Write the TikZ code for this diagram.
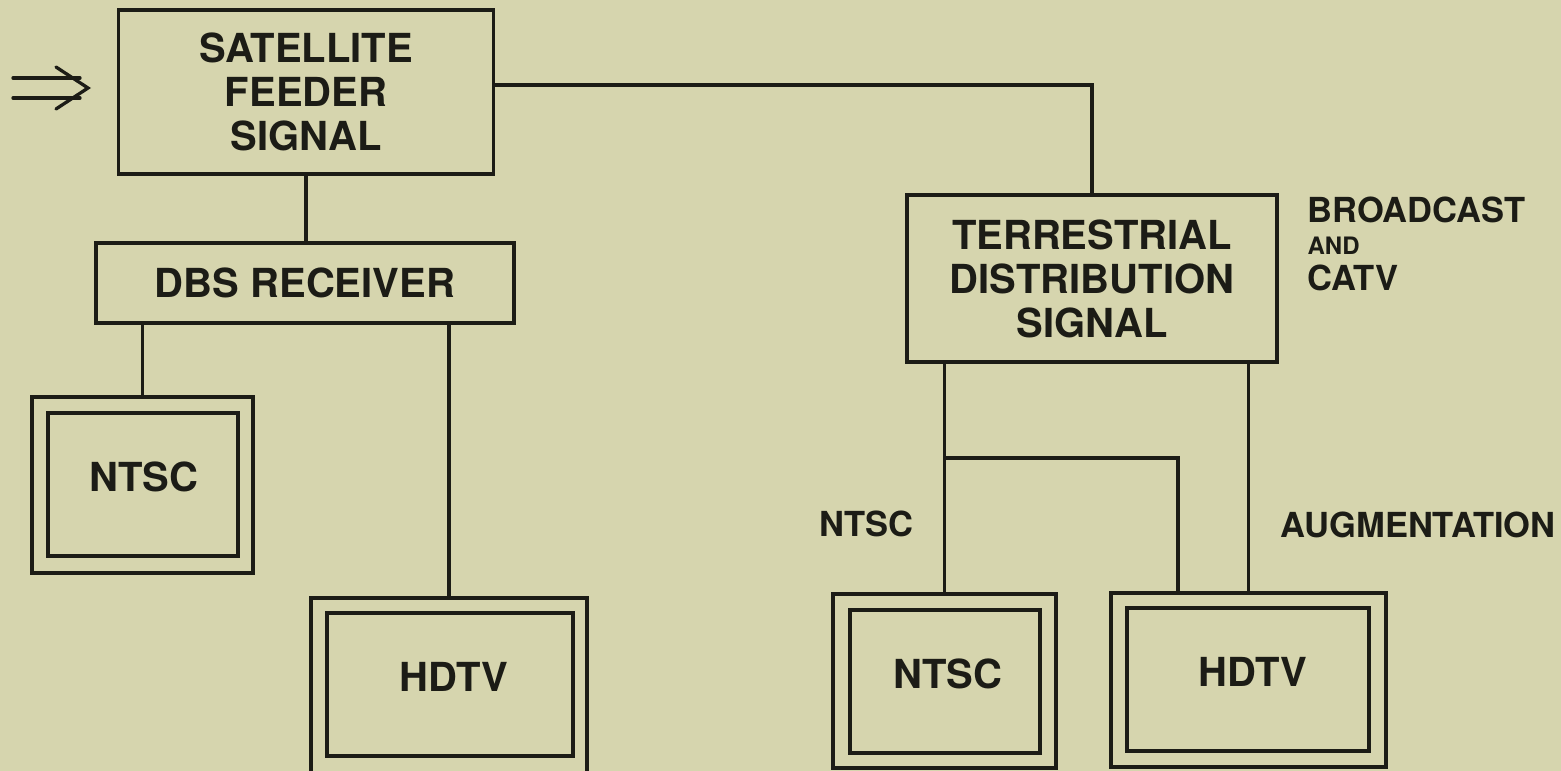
\documentclass[tikz,border=0pt]{standalone}
\usepackage{fontspec}
\setmainfont{TeX Gyre Heros}
\definecolor{paper}{RGB}{214,213,174}
\definecolor{ink}{RGB}{28,28,22}
\newcommand\bigtxt{\fontsize{40}{44}\selectfont\bfseries}
\newcommand\lbltxt{\fontsize{34.5}{38}\selectfont\bfseries}
\newcommand\andtxt{\fontsize{24}{26}\selectfont\bfseries}
\begin{document}
\begin{tikzpicture}[x=1pt,y=-1pt,line width=3.3pt,
  box/.style={draw=ink,rectangle,inner sep=0pt,align=center,font=\bigtxt,text=ink},
  tvframe/.style={draw=ink,rectangle,inner sep=0pt},
  tvtext/.style={inner sep=0pt,font=\bigtxt,text=ink},
  lbl/.style={inner sep=0pt,anchor=base west,font=\lbltxt,text=ink},
  wire/.style={draw=ink,line width=3.3pt}]
\fill[paper] (0,0) rectangle (1561,771);
\useasboundingbox (0,0) rectangle (1561,771);

% main boxes
\node[box,minimum width=375pt,minimum height=164pt] (sat) at (306,92) {SATELLITE\\FEEDER\\SIGNAL};
\node[box,minimum width=418pt,minimum height=80pt] (dbs) at (305,283) {DBS RECEIVER};
\node[box,minimum width=370pt,minimum height=167pt] (terr) at (1092,278.5) {TERRESTRIAL\\DISTRIBUTION\\SIGNAL};

% TV sets
\node[tvframe,minimum width=221pt,minimum height=176pt] (ntscL) at (142.5,485) {};
\node[tvframe,minimum width=190pt,minimum height=143pt] (ntscLi) at (143,484.5) {};
\node[tvtext] (ntscLt) at ([xshift=1pt,yshift=8pt]ntscLi.center) {NTSC};

\node[tvframe,minimum width=276pt,minimum height=178pt] (hdtvL) at (449,687) {};
\node[tvframe,minimum width=246pt,minimum height=143pt] (hdtvLi) at (450,684.5) {};
\node[tvtext] (hdtvLt) at ([xshift=4pt,yshift=8pt]hdtvLi.center) {HDTV};

\node[tvframe,minimum width=223pt,minimum height=174pt] (ntscR) at (944.5,681) {};
\node[tvframe,minimum width=190pt,minimum height=143pt] (ntscRi) at (945,681.5) {};
\node[tvtext] (ntscRt) at ([xshift=3pt,yshift=8pt]ntscRi.center) {NTSC};

\node[tvframe,minimum width=275pt,minimum height=174pt] (hdtvR) at (1248.5,680) {};
\node[tvframe,minimum width=242pt,minimum height=143pt] (hdtvRi) at (1248,679.5) {};
\node[tvtext] (hdtvRt) at ([xshift=5pt,yshift=8pt]hdtvRi.center) {HDTV};

% labels
\node[lbl] (lblntsc) at (818,536) {NTSC};
\node[lbl] (lblaug) at (1279,537) {AUGMENTATION};
\node[lbl] (lblbc) at (1306,222) {BROADCAST};
\node[lbl,font=\andtxt] (lbland) at (1306,254) {AND};
\node[lbl] (lblcatv) at (1306,290) {CATV};

% connectors
\draw[wire] (sat.south) -- (sat.south |- dbs.north);
\draw[wire] ([yshift=7pt]sat.east) -| (terr.north);
\draw[wire] (ntscL.north |- dbs.south) -- (ntscL.north);
\draw[wire] (hdtvL.north |- dbs.south) -- (hdtvL.north);
\draw[wire] (ntscR.north |- terr.south) -- (ntscR.north);
\draw[wire] (hdtvR.north |- terr.south) -- (hdtvR.north);
\coordinate (br) at (944.5,458 |- 0,458);
\draw[wire] (br) -| ([xshift=-70.5pt]hdtvR.north);

% input double arrow
\coordinate (a1) at (13,78);
\coordinate (a2) at (80,78);
\coordinate (b1) at (13,98);
\coordinate (b2) at (80,98);
\coordinate (c1) at (56,67);
\coordinate (tip) at (88,88);
\coordinate (c2) at (56,109);
\draw[wire,line cap=round] (a1) -- (a2);
\draw[wire,line cap=round] (b1) -- (b2);
\draw[wire,line cap=round,line join=miter] (c1) -- (tip) -- (c2);
\end{tikzpicture}
\end{document}
